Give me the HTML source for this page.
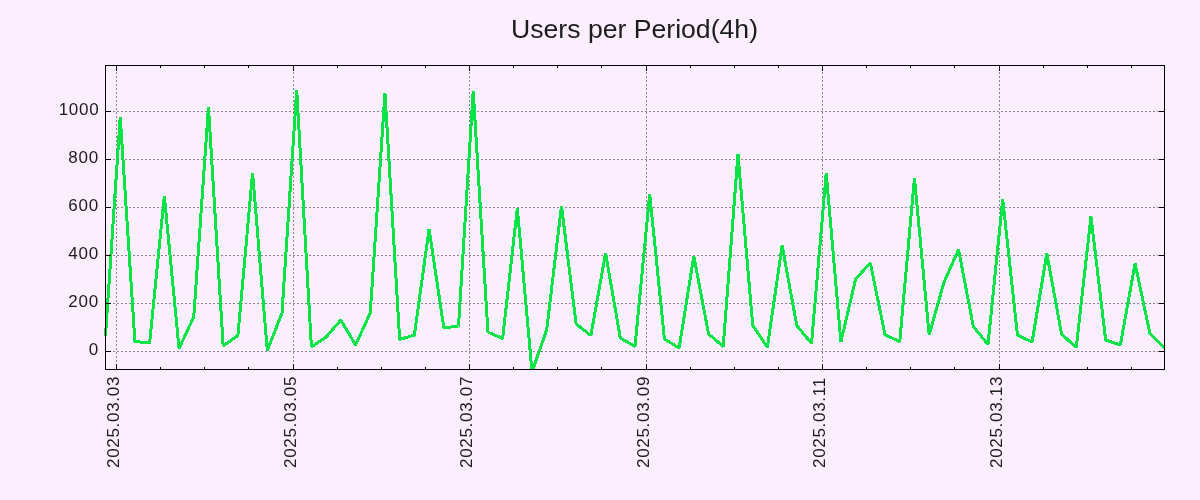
<!DOCTYPE html>
<html><head><meta charset="utf-8"><style>
html,body{margin:0;padding:0;background:#fbeefe;}
body{width:1200px;height:500px;overflow:hidden;}
svg{display:block;}
.g{stroke:#888888;stroke-width:1;stroke-dasharray:2 2;fill:none;shape-rendering:crispEdges;}
.gv{stroke-dashoffset:1;}
.t{stroke:#000;stroke-width:1;fill:none;}
.d{stroke:#08e448;stroke-width:3;fill:none;stroke-linejoin:bevel;shape-rendering:crispEdges;}
svg text{font-family:"Liberation Sans", sans-serif;fill:#1c1c1c;}
.yl{font-size:17px;text-anchor:end;letter-spacing:0.7px;}
.xl{font-size:17px;letter-spacing:0.7px;}
.ti{font-size:25.6px;}
</style></head><body>
<svg width="1200" height="500" viewBox="0 0 1200 500">
<defs><clipPath id="c"><rect x="104" y="65" width="1062" height="305"/></clipPath></defs>
<line x1="105" y1="111.5" x2="1164" y2="111.5" class="g"/>
<line x1="105" y1="159.5" x2="1164" y2="159.5" class="g"/>
<line x1="105" y1="207.5" x2="1164" y2="207.5" class="g"/>
<line x1="105" y1="255.5" x2="1164" y2="255.5" class="g"/>
<line x1="105" y1="303.5" x2="1164" y2="303.5" class="g"/>
<line x1="105" y1="351.5" x2="1164" y2="351.5" class="g"/>
<line x1="116.5" y1="65" x2="116.5" y2="369" class="g gv"/>
<line x1="293.5" y1="65" x2="293.5" y2="369" class="g gv"/>
<line x1="469.5" y1="65" x2="469.5" y2="369" class="g gv"/>
<line x1="646.5" y1="65" x2="646.5" y2="369" class="g gv"/>
<line x1="822.5" y1="65" x2="822.5" y2="369" class="g gv"/>
<line x1="999.5" y1="65" x2="999.5" y2="369" class="g gv"/>
<g clip-path="url(#c)"><polyline points="105.50,336 120.21,117 134.92,341.5 149.62,343 164.33,196 179.04,348.5 193.75,317 208.46,107 223.17,346 237.88,335.5 252.58,173 267.29,350.5 282.00,313 296.71,90 311.42,347 326.12,337 340.83,320 355.54,345 370.25,313 384.96,93 399.67,339.5 414.38,335 429.08,229 443.79,327.5 458.50,326.5 473.21,91 487.92,332 502.62,338.5 517.33,208 532.04,372 546.75,329.5 561.46,206 576.17,324 590.88,335.5 605.58,253 620.29,338 635.00,346.5 649.71,194 664.42,339 679.12,348 693.83,256 708.54,334 723.25,346.5 737.96,154 752.67,325 767.38,347.5 782.08,245.5 796.79,325.5 811.50,343.5 826.21,173 840.92,342 855.62,279 870.33,263 885.04,335 899.75,341.5 914.46,178 929.17,335 943.88,282.5 958.58,249.5 973.29,326.5 988.00,344.5 1002.71,199 1017.42,335 1032.12,342 1046.83,253.5 1061.54,334 1076.25,347.5 1090.96,216.5 1105.67,340 1120.38,345 1135.08,263.5 1149.79,333 1164.50,348" class="d"/></g>
<path d="M105,111.5h6M1164,111.5h-5M105,159.5h6M1164,159.5h-5M105,207.5h6M1164,207.5h-5M105,255.5h6M1164,255.5h-5M105,303.5h6M1164,303.5h-5M105,351.5h6M1164,351.5h-5M116.5,369v-5M116.5,65v6M160.5,369v-2M160.5,65v3M204.5,369v-2M204.5,65v3M248.5,369v-2M248.5,65v3M293.5,369v-5M293.5,65v6M337.5,369v-2M337.5,65v3M381.5,369v-2M381.5,65v3M425.5,369v-2M425.5,65v3M469.5,369v-5M469.5,65v6M513.5,369v-2M513.5,65v3M557.5,369v-2M557.5,65v3M601.5,369v-2M601.5,65v3M646.5,369v-5M646.5,65v6M690.5,369v-2M690.5,65v3M734.5,369v-2M734.5,65v3M778.5,369v-2M778.5,65v3M822.5,369v-5M822.5,65v6M866.5,369v-2M866.5,65v3M910.5,369v-2M910.5,65v3M954.5,369v-2M954.5,65v3M999.5,369v-5M999.5,65v6M1043.5,369v-2M1043.5,65v3M1087.5,369v-2M1087.5,65v3M1131.5,369v-2M1131.5,65v3" class="t"/>
<rect x="105.5" y="65.5" width="1059" height="304" class="t" fill="none"/>
<g style="will-change:transform">
<text x="99.3" y="115.0" class="yl">1000</text>
<text x="98.8" y="163.0" class="yl">800</text>
<text x="98.8" y="211.0" class="yl">600</text>
<text x="98.8" y="259.0" class="yl">400</text>
<text x="98.8" y="307.0" class="yl">200</text>
<text x="98.8" y="355.0" class="yl">0</text>
<text transform="translate(119.0,468.0) rotate(-90)" class="xl">2025.03.03</text>
<text transform="translate(296.0,468.0) rotate(-90)" class="xl">2025.03.05</text>
<text transform="translate(472.0,468.0) rotate(-90)" class="xl">2025.03.07</text>
<text transform="translate(649.0,468.0) rotate(-90)" class="xl">2025.03.09</text>
<text transform="translate(825.0,468.0) rotate(-90)" class="xl">2025.03.11</text>
<text transform="translate(1002.0,468.0) rotate(-90)" class="xl">2025.03.13</text>
<text x="511" y="37.7" class="ti" textLength="247" lengthAdjust="spacingAndGlyphs">Users per Period(4h)</text>
</g>
</svg>
</body></html>
